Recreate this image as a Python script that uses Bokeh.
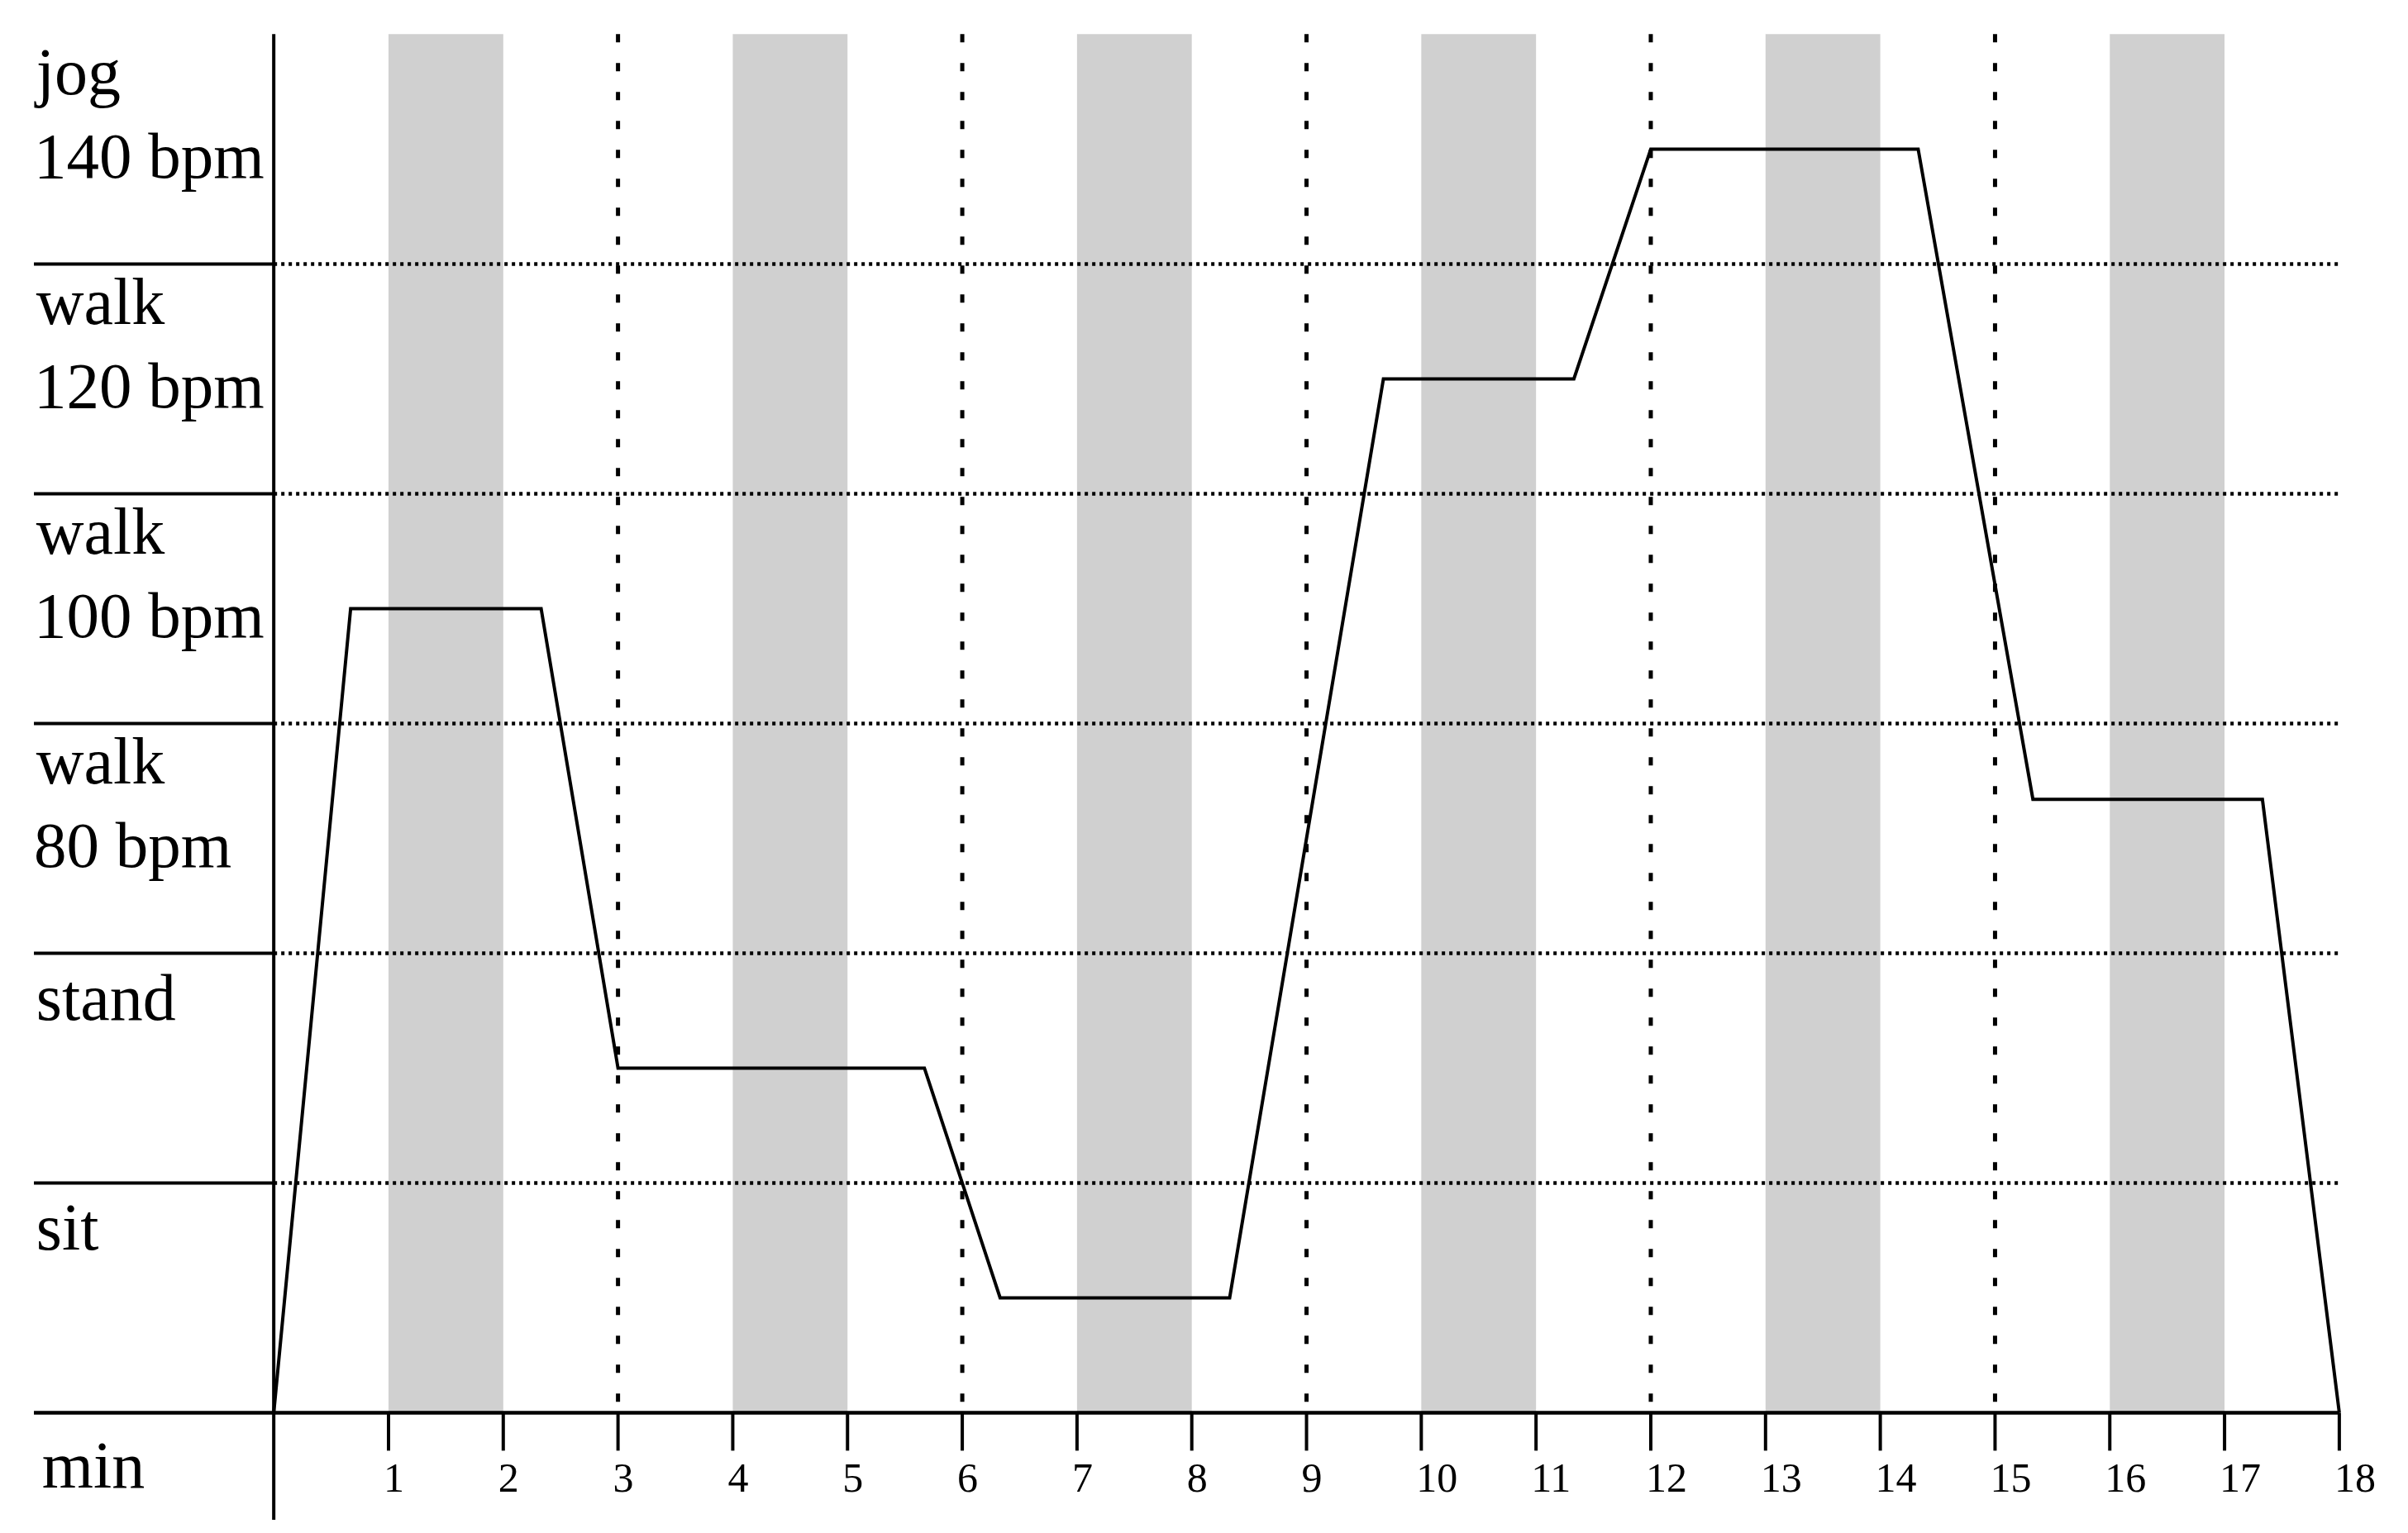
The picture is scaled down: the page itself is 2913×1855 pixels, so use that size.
from bokeh.plotting import figure
from bokeh.models import Range1d
from bokeh.core.properties import value
from bokeh.embed import file_html
from bokeh.resources import INLINE

# ---- data ----
minutes = [0, 0.67, 2.33, 3, 5.67, 6.33, 8.33, 9.67, 11.33, 12, 14.33, 15.33, 17.33, 18]
level = [0, 3.5, 3.5, 1.5, 1.5, 0.5, 0.5, 4.5, 4.5, 5.5, 5.5, 2.67, 2.67, 0]

band_activity = ["sit", "stand", "walk", "walk", "walk", "jog"]
band_rate = ["", "", "80 bpm", "100 bpm", "120 bpm", "140 bpm"]
band_bottom = [0, 1, 2, 3, 4, 5]

shaded_minutes = [1, 4, 7, 10, 13, 16]
dotted_minutes = [3, 6, 9, 12, 15]
boundaries = [1, 2, 3, 4, 5]

tick_values = list(range(1, 19))
tick_labels = [str(t) for t in tick_values]
x_unit_label = "min"

X_MAX = 18
Y_MAX = 6
LABEL_LEFT = -2.09

W, H = 2897, 1839
p = figure(width=W, height=H, output_backend="svg", toolbar_location=None,
           x_range=Range1d(-2.382, 18.487), y_range=Range1d(-0.4676, 6.147),
           x_axis_location=None, y_axis_location=None,
           min_border=0, min_border_left=0, min_border_right=0,
           min_border_top=0, min_border_bottom=0)
p.grid.visible = False
p.outline_line_color = None
p.background_fill_color = "white"
p.border_fill_color = "white"

# shaded minute bands
p.quad(left=shaded_minutes, right=[m + 1 for m in shaded_minutes],
       bottom=0, top=Y_MAX, fill_color="#d0d0d0", line_color=None)

# horizontal dotted boundaries inside the plot
p.segment(x0=[0] * len(boundaries), y0=boundaries, x1=[X_MAX] * len(boundaries), y1=boundaries,
          line_color="black", line_width=4.5, line_dash="4 5")
# solid boundary stubs in the label column
p.segment(x0=[LABEL_LEFT] * len(boundaries), y0=boundaries, x1=[0] * len(boundaries), y1=boundaries,
          line_color="black", line_width=4)

# vertical dotted lines every 3 minutes
p.segment(x0=dotted_minutes, y0=[Y_MAX] * len(dotted_minutes), x1=dotted_minutes, y1=[0] * len(dotted_minutes),
          line_color="black", line_width=5, line_dash="10 25")

# axes
p.segment(x0=[LABEL_LEFT], y0=[0], x1=[X_MAX], y1=[0], line_color="black", line_width=4.5)
p.segment(x0=[0], y0=[-0.52], x1=[0], y1=[Y_MAX], line_color="black", line_width=4)
p.segment(x0=tick_values, y0=[0] * len(tick_values), x1=tick_values, y1=[-0.165] * len(tick_values),
          line_color="black", line_width=4)

# activity line
p.line(minutes, level, line_color="black", line_width=4, line_join="miter")

# labels
font = value("Liberation Serif")
act_y = [b + (0.837 if r else 0.807) for b, r in zip(band_bottom, band_rate)]
p.text(x=[LABEL_LEFT + 0.02] * len(band_activity), y=act_y, text=band_activity,
       text_font=font, text_font_size="80px", text_baseline="alphabetic",
       text_align="left", text_color="black")
rate_idx = [i for i, r in enumerate(band_rate) if r]
p.text(x=[LABEL_LEFT] * len(rate_idx), y=[band_bottom[i] + 0.47 for i in rate_idx],
       text=[band_rate[i] for i in rate_idx],
       text_font=font, text_font_size="79px", text_baseline="alphabetic",
       text_align="left", text_color="black")
p.text(x=[LABEL_LEFT + 0.07], y=[-0.228], text=[x_unit_label],
       text_font=font, text_font_size="80px", text_baseline="alphabetic",
       text_align="left", text_color="black")
p.text(x=tick_values, y=[-0.285] * len(tick_values), text=tick_labels, x_offset=-6,
       text_font=font, text_font_size="50px", text_baseline="alphabetic",
       text_align="left", text_color="black")

open("out.html", "w").write(file_html(p, INLINE))
